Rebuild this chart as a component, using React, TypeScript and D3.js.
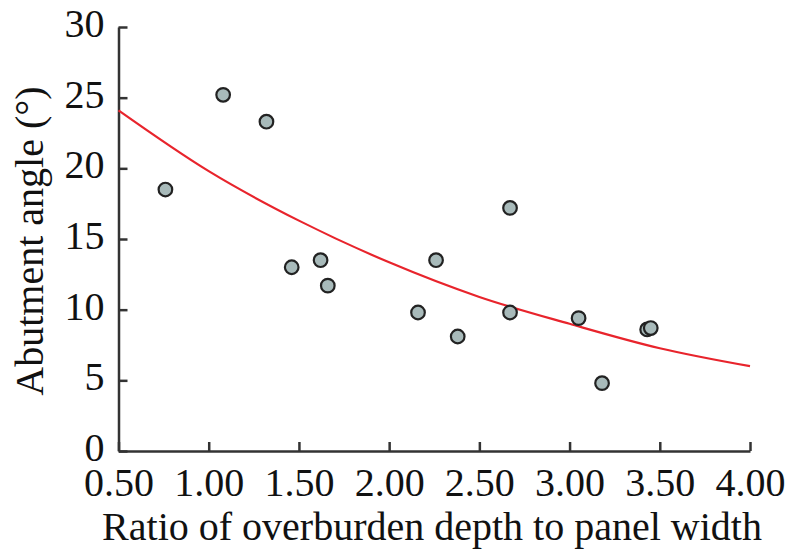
import React, { useEffect, useRef } from 'react';
import * as d3 from 'd3';

// measured points
const ratioValues = [0.76, 1.08, 1.32, 1.46, 1.62, 1.66, 2.16, 2.26, 2.38, 2.67, 2.67, 3.05, 3.18, 3.43, 3.45];
const angleValues = [18.5, 25.2, 23.3, 13.0, 13.5, 11.7, 9.8, 13.5, 8.1, 17.2, 9.8, 9.4, 4.8, 8.6, 8.7];

// fitted trend
const fitRatio = [0.5, 1.0, 1.5, 2.0, 2.5, 3.0, 3.5, 4.0];
const fitAngle = [24.1, 19.8, 16.3, 13.35, 10.9, 9.0, 7.27, 6.0];

const xTicks = [0.5, 1.0, 1.5, 2.0, 2.5, 3.0, 3.5, 4.0];
const yTicks = [0, 5, 10, 15, 20, 25, 30];

const xTitle = 'Ratio of overburden depth to panel width';
const yTitle = 'Abutment angle (°)';

const App = () => {
    const ref = useRef(null);
    useEffect(() => {
        document.body.style.margin = '0';
        const svg = d3.select(ref.current);
        svg.selectAll('*').remove();

        const margin = { top: 27, right: 41, bottom: 104, left: 118.5 },
            width = 791 - margin.left - margin.right,
            height = 555 - margin.top - margin.bottom;
        const font = '"Liberation Serif", "Times New Roman", serif';

        const x = d3.scaleLinear().domain([0.5, 4.0]).range([0, width]);
        const y = d3.scaleLinear().domain([0, 30]).range([height, 0]);

        const g = svg.append('g').attr('transform', `translate(${margin.left},${margin.top})`);

        // x axis, ticks point inward
        const xAxis = g.append('g')
            .attr('transform', `translate(0,${height})`)
            .call(d3.axisBottom(x).tickValues(xTicks).tickFormat(d3.format('.2f')).tickSizeInner(-9).tickSizeOuter(0).tickPadding(17));
        xAxis.select('.domain').attr('stroke', '#333').attr('stroke-width', 2.5);
        xAxis.selectAll('.tick line').attr('stroke', '#333').attr('stroke-width', 2.5);
        xAxis.selectAll('.tick text').attr('font-family', font).attr('font-size', 40).attr('fill', '#111');

        const yAxis = g.append('g')
            .call(d3.axisLeft(y).tickValues(yTicks).tickSizeInner(-9).tickSizeOuter(0).tickPadding(14));
        yAxis.select('.domain').attr('stroke', '#333').attr('stroke-width', 2.5);
        yAxis.selectAll('.tick line').attr('stroke', '#333').attr('stroke-width', 2.5);
        yAxis.selectAll('.tick text').attr('font-family', font).attr('font-size', 40).attr('fill', '#111').attr('dy', '0.24em');

        // trend curve
        const fit = fitRatio.map((r, i) => ({ r, a: fitAngle[i] }));
        g.append('path')
            .datum(fit)
            .attr('fill', 'none')
            .attr('stroke', '#e8242c')
            .attr('stroke-width', 2.2)
            .attr('d', d3.line<any>()
                .x(d => x(d.r))
                .y(d => y(d.a))
                .curve(d3.curveMonotoneX));

        const pts = ratioValues.map((r, i) => ({ r, a: angleValues[i] }));
        g.selectAll('circle.pt')
            .data(pts)
            .enter()
            .append('circle')
            .attr('class', 'pt')
            .attr('cx', d => x(d.r))
            .attr('cy', d => y(d.a))
            .attr('r', 6.8)
            .attr('fill', '#a8baba')
            .attr('stroke', '#222')
            .attr('stroke-width', 2.2);

        svg.append('text')
            .attr('x', 432)
            .attr('y', 540)
            .attr('text-anchor', 'middle')
            .attr('font-family', font)
            .attr('font-size', 40)
            .attr('fill', '#111')
            .text(xTitle);

        svg.append('text')
            .attr('transform', `translate(43,${margin.top + height / 2 + 2}) rotate(-90)`)
            .attr('text-anchor', 'middle')
            .attr('font-family', font)
            .attr('font-size', 40)
            .attr('fill', '#111')
            .text(yTitle);
    }, []);
    return (
        <svg ref={ref} width={791} height={555} style={{ display: 'block', background: '#fff' }}></svg>
    );
};

export default App;
